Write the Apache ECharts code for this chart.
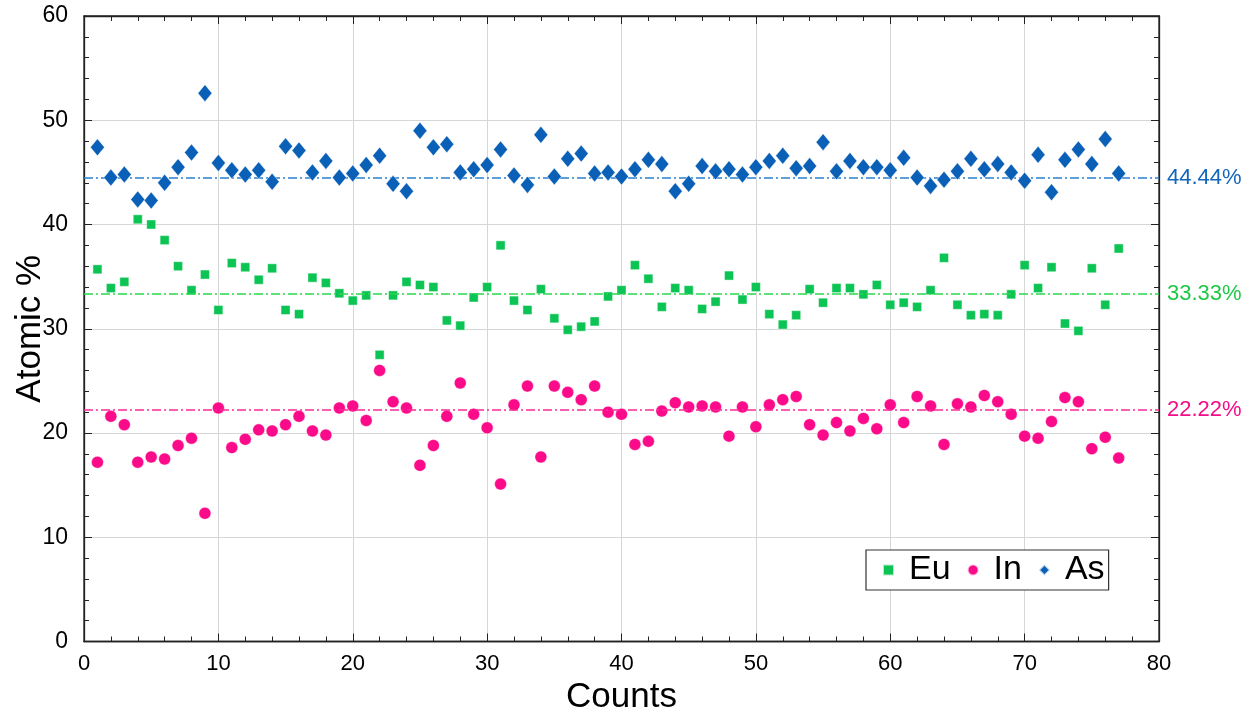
<!DOCTYPE html>
<html>
<head>
<meta charset="utf-8">
<script src="https://cdn.jsdelivr.net/npm/echarts@6/dist/echarts.min.js"></script>
<style>
html,body{margin:0;padding:0;background:#fff;}
#chart{width:1257px;height:715px;}
</style>
</head>
<body>
<div id="chart"></div>
<script>
// Measurement index (Counts)
const counts = Array.from({length: 77}, (_, i) => i + 1);

const euValues = [35.7,33.9,34.5,40.5,40.0,38.5,36.0,33.7,35.2,31.8,
  36.3,35.9,34.7,35.8,31.8,31.4,34.9,34.4,33.4,32.7,
  33.2,27.5,33.2,34.5,34.2,34.0,30.8,30.3,33.0,34.0,
  38.0,32.7,31.8,33.8,31.0,29.9,30.2,30.7,33.1,33.7,
  36.1,34.8,32.1,33.9,33.7,31.9,32.6,35.1,32.8,34.0,
  31.4,30.4,31.3,33.8,32.5,33.9,33.9,33.3,34.2,32.3,
  32.5,32.1,33.7,36.8,32.3,31.3,31.4,31.3,33.3,36.1,
  33.9,35.9,30.5,29.8,35.8,32.3,37.7];

const inValues = [17.2,21.6,20.8,17.2,17.7,17.5,18.8,19.5,12.3,22.4,
  18.6,19.4,20.3,20.2,20.8,21.6,20.2,19.8,22.4,22.6,
  21.2,26.0,23.0,22.4,16.9,18.8,21.6,24.8,21.8,20.5,
  15.1,22.7,24.5,17.7,24.5,23.9,23.2,24.5,22.0,21.8,
  18.9,19.2,22.1,22.9,22.5,22.6,22.5,19.7,22.5,20.6,
  22.7,23.2,23.5,20.8,19.8,21.0,20.2,21.4,20.4,22.7,
  21.0,23.5,22.6,18.9,22.8,22.5,23.6,23.0,21.8,19.7,
  19.5,21.1,23.4,23.0,18.5,19.6,17.6];

const asValues = [47.4,44.5,44.8,42.4,42.3,44.0,45.5,46.9,52.6,45.9,
  45.2,44.8,45.2,44.1,47.5,47.1,45.0,46.1,44.5,44.9,
  45.7,46.6,43.9,43.2,49.0,47.4,47.7,45.0,45.3,45.7,
  47.2,44.7,43.8,48.6,44.6,46.3,46.8,44.9,45.0,44.6,
  45.3,46.2,45.8,43.2,43.9,45.6,45.1,45.3,44.8,45.5,
  46.1,46.6,45.4,45.6,47.9,45.1,46.1,45.5,45.5,45.2,
  46.4,44.5,43.7,44.3,45.1,46.3,45.3,45.8,45.0,44.2,
  46.7,43.1,46.2,47.2,45.8,48.2,44.9];

const seriesNames = ['Eu', 'In', 'As'];
const refValues = [33.33, 22.22, 44.44];
const refLabels = ['33.33%', '22.22%', '44.44%'];

const xTicks = [0, 10, 20, 30, 40, 50, 60, 70, 80];
const yTicks = [0, 10, 20, 30, 40, 50, 60];

const colors = ['#0cc453', '#fb0a8a', '#0a60b6'];
const lineColors = ['#2bd84f', '#fb2a96', '#2a7fd0'];
const labelColors = ['#1ec846', '#f50c88', '#1266bb'];
const symbols = ['rect', 'circle', 'diamond'];
const symbolSizes = [9, 12, [14, 17]];
const allValues = [euValues, inValues, asValues];

const FONT = 'Liberation Sans, Arial, Helvetica, sans-serif';

const chart = echarts.init(document.getElementById('chart'), null, {renderer: 'canvas'});

const series = seriesNames.map((name, k) => ({
  name: name,
  type: 'scatter',
  symbol: symbols[k],
  symbolSize: symbolSizes[k],
  itemStyle: {color: colors[k], opacity: 1, borderColor: 'rgba(255,255,255,0.7)', borderWidth: 0.6},
  data: counts.map((c, i) => [c, allValues[k][i]]),
  z: 3 + k,
  markLine: {
    silent: true,
    symbol: 'none',
    lineStyle: {color: lineColors[k], type: [9, 3, 2, 3], width: 1.5, opacity: 1},
    label: {
      show: true,
      position: 'end',
      distance: 8,
      formatter: refLabels[k],
      color: labelColors[k],
      fontSize: 22,
      fontFamily: FONT
    },
    data: [{yAxis: refValues[k]}]
  }
}));

const option = {
  backgroundColor: '#ffffff',
  animation: false,
  textStyle: {fontFamily: FONT},
  grid: {
    left: 84, right: 98, top: 16, bottom: 73.5,
    containLabel: false,
    outerBoundsMode: 'none',
    show: true, borderColor: '#222', borderWidth: 1.3, backgroundColor: 'transparent'
  },
  legend: {
    data: seriesNames.map((n, k) => ({name: n, icon: symbols[k]})),
    left: 866, top: 550,
    orient: 'horizontal',
    itemWidth: 11, itemHeight: 11,
    itemGap: 16,
    padding: [3, 4, 3, 16],
    borderColor: '#333', borderWidth: 1.2, borderRadius: 0,
    backgroundColor: '#fff',
    textStyle: {fontSize: 34, color: '#000', fontFamily: FONT, padding: [0, 0, 0, 10]}
  },
  xAxis: [{
    type: 'value', min: 0, max: 80, interval: 10,
    name: 'Counts', nameLocation: 'middle', nameGap: 38,
    nameTextStyle: {fontSize: 35, color: '#000', fontFamily: FONT},
    axisLine: {show: true, onZero: false, lineStyle: {color: '#222', width: 1.3}},
    axisTick: {show: true, inside: true, length: 8, lineStyle: {color: '#222'}},
    minorTick: {show: true, splitNumber: 5, length: 5, lineStyle: {color: '#222'}},
    axisLabel: {fontSize: 22, color: '#000', margin: 11, fontFamily: FONT,
      formatter: v => xTicks.includes(v) ? String(v) : ''},
    splitLine: {show: true, lineStyle: {color: '#d6d6d6', width: 1}}
  }, {
    type: 'value', min: 0, max: 80, interval: 10, position: 'top',
    axisLine: {show: true, onZero: false, lineStyle: {color: '#222', width: 1.3}},
    axisTick: {show: true, inside: true, length: 8, lineStyle: {color: '#222'}},
    minorTick: {show: true, splitNumber: 5, length: 5, lineStyle: {color: '#222'}},
    axisLabel: {show: false},
    splitLine: {show: false}
  }],
  yAxis: [{
    type: 'value', min: 0, max: 60, interval: 10,
    name: 'Atomic %', nameLocation: 'middle', nameGap: 36,
    nameMoveOverlap: false,
    nameTextStyle: {fontSize: 35, color: '#000', fontFamily: FONT},
    axisLine: {show: true, onZero: false, lineStyle: {color: '#222', width: 1.3}},
    axisTick: {show: true, inside: true, length: 8, lineStyle: {color: '#222'}},
    minorTick: {show: true, splitNumber: 5, length: 5, lineStyle: {color: '#222'}},
    axisLabel: {fontSize: 23, color: '#000', margin: 16, fontFamily: FONT,
      formatter: v => yTicks.includes(v) ? String(v) : ''},
    splitLine: {show: true, lineStyle: {color: '#d6d6d6', width: 1}}
  }, {
    type: 'value', min: 0, max: 60, interval: 10, position: 'right',
    axisLine: {show: true, onZero: false, lineStyle: {color: '#222', width: 1.3}},
    axisTick: {show: true, inside: true, length: 8, lineStyle: {color: '#222'}},
    minorTick: {show: true, splitNumber: 5, length: 5, lineStyle: {color: '#222'}},
    axisLabel: {show: false},
    splitLine: {show: false}
  }],
  series: series
};

chart.setOption(option);
</script>
</body>
</html>
